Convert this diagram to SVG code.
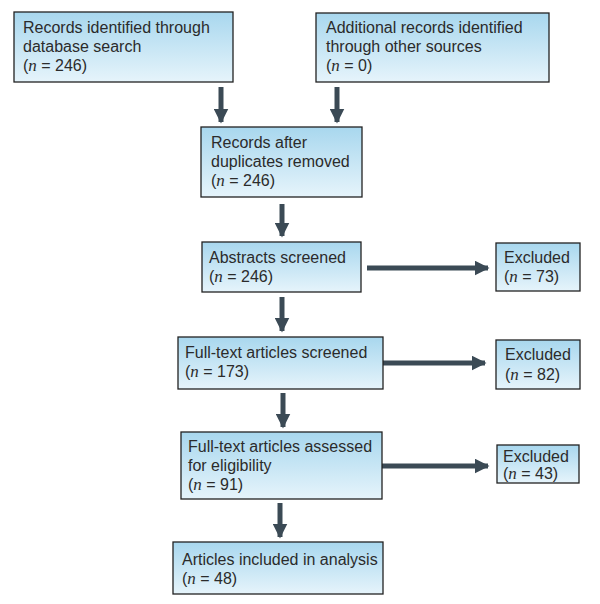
<svg xmlns="http://www.w3.org/2000/svg" width="600" height="604" viewBox="0 0 600 604">
<defs>
<linearGradient id="g" x1="0" y1="0" x2="0" y2="1">
<stop offset="0" stop-color="#a8d7ee"/>
<stop offset="1" stop-color="#e6f4fb"/>
</linearGradient>
<marker id="ah" viewBox="0 0 10 10" refX="9" refY="5" markerWidth="3" markerHeight="3" markerUnits="strokeWidth" orient="auto">
<path d="M0,0 L10,5 L0,10 Z" fill="#3b4a55"/>
</marker>
<style>
rect.box{fill:url(#g);stroke:#222;stroke-width:1.3}
text{font-family:"Liberation Sans",Arial,sans-serif;font-size:16px;fill:#2b2b2b}
.i{font-style:italic;font-family:"Liberation Serif",serif;font-size:17px}
line.c{stroke:#3b4a55;stroke-width:5;marker-end:url(#ah)}
</style>
</defs>
<g id="connectors">
<line class="c" x1="221" y1="87" x2="221" y2="122"/>
<line class="c" x1="337" y1="87" x2="337" y2="122"/>
<line class="c" x1="282" y1="204" x2="282" y2="236"/>
<line class="c" x1="367" y1="268" x2="488" y2="268"/>
<line class="c" x1="282" y1="297" x2="282" y2="331"/>
<line class="c" x1="383" y1="363" x2="485" y2="363"/>
<line class="c" x1="283" y1="393" x2="283" y2="427"/>
<line class="c" x1="382" y1="466" x2="488" y2="466"/>
<line class="c" x1="280" y1="503" x2="280" y2="537"/>
</g>
<g id="n1">
<rect class="box" x="14" y="12" width="219" height="70"/>
<text x="23" y="33">Records identified through</text>
<text x="23" y="52">database search</text>
<text x="23" y="71">(<tspan class="i">n</tspan> = 246)</text>
</g>
<g id="n2">
<rect class="box" x="316" y="13" width="233" height="69"/>
<text x="326" y="33">Additional records identified</text>
<text x="326" y="52">through other sources</text>
<text x="326" y="71">(<tspan class="i">n</tspan> = 0)</text>
</g>
<g id="n3">
<rect class="box" x="201" y="127" width="161" height="70"/>
<text x="211" y="148">Records after</text>
<text x="211" y="167">duplicates removed</text>
<text x="211" y="186">(<tspan class="i">n</tspan> = 246)</text>
</g>
<g id="n4">
<rect class="box" x="202" y="242" width="159" height="50"/>
<text x="209" y="263">Abstracts screened</text>
<text x="209" y="282">(<tspan class="i">n</tspan> = 246)</text>
</g>
<g id="x1">
<rect class="box" x="496" y="243" width="84" height="48"/>
<text x="504" y="263">Excluded</text>
<text x="504" y="282">(<tspan class="i">n</tspan> = 73)</text>
</g>
<g id="n5">
<rect class="box" x="178" y="337" width="205" height="52"/>
<text x="185" y="358">Full-text articles screened</text>
<text x="185" y="377">(<tspan class="i">n</tspan> = 173)</text>
</g>
<g id="x2">
<rect class="box" x="496" y="340" width="84" height="49"/>
<text x="505" y="360">Excluded</text>
<text x="505" y="380">(<tspan class="i">n</tspan> = 82)</text>
</g>
<g id="n6">
<rect class="box" x="181" y="432" width="201" height="67"/>
<text x="188" y="452">Full-text articles assessed</text>
<text x="188" y="471">for eligibility</text>
<text x="188" y="490">(<tspan class="i">n</tspan> = 91)</text>
</g>
<g id="x3">
<rect class="box" x="497" y="445" width="82" height="38"/>
<text x="503" y="462">Excluded</text>
<text x="503" y="479">(<tspan class="i">n</tspan> = 43)</text>
</g>
<g id="n7">
<rect class="box" x="173" y="542" width="210" height="52"/>
<text x="182" y="565">Articles included in analysis</text>
<text x="182" y="584">(<tspan class="i">n</tspan> = 48)</text>
</g>
</svg>
